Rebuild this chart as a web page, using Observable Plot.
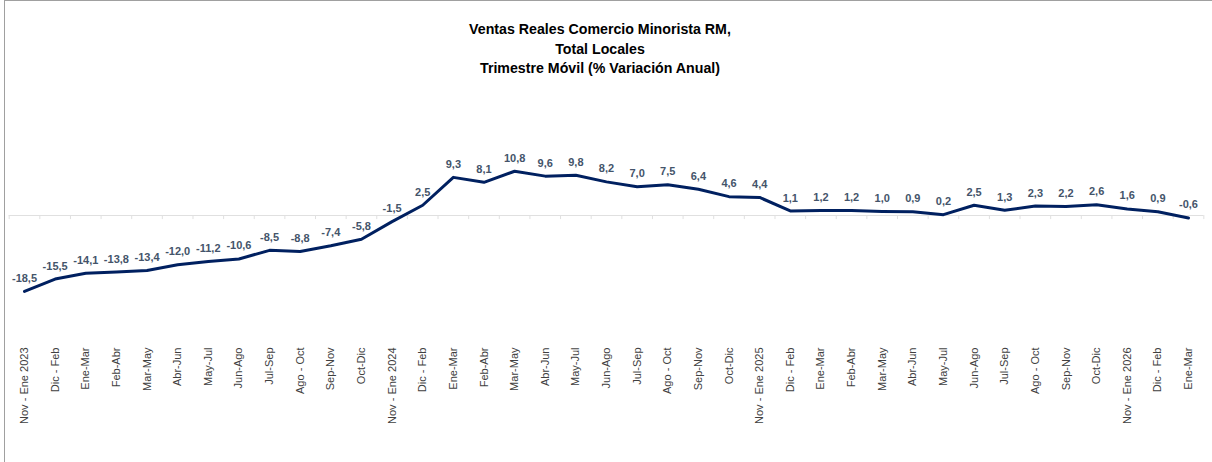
<!DOCTYPE html>
<html>
<head>
<meta charset="utf-8">
<script src="https://cdn.jsdelivr.net/npm/d3@7"></script>
<script src="https://cdn.jsdelivr.net/npm/@observablehq/plot@0.6"></script>
<style>
  html, body { margin: 0; padding: 0; background: #fff; }
  #frame { position: absolute; left: 4px; top: 0; width: 1300px; height: 470px;
           border-top: 1px solid #a0a0a0; border-left: 1px solid #a0a0a0; box-sizing: border-box; }
  #title { position: absolute; left: 0; top: 20px; width: 1200px; text-align: center;
           font-family: "Liberation Sans", Arial, sans-serif; font-weight: bold; font-size: 14.2px;
           line-height: 19.5px; color: #000; }
  #chart { position: absolute; left: 0; top: 80px; }
</style>
</head>
<body>
<div id="frame"></div>
<div id="title">Ventas Reales Comercio Minorista RM,<br>Total Locales<br>Trimestre Móvil (% Variación Anual)</div>
<div id="chart"></div>
<script>
const categories = [
  "Nov - Ene 2023", "Dic - Feb", "Ene-Mar", "Feb-Abr", "Mar-May", "Abr-Jun", "May-Jul", "Jun-Ago", "Jul-Sep", "Ago - Oct", "Sep-Nov", "Oct-Dic",
  "Nov - Ene 2024", "Dic - Feb", "Ene-Mar", "Feb-Abr", "Mar-May", "Abr-Jun", "May-Jul", "Jun-Ago", "Jul-Sep", "Ago - Oct", "Sep-Nov", "Oct-Dic",
  "Nov - Ene 2025", "Dic - Feb", "Ene-Mar", "Feb-Abr", "Mar-May", "Abr-Jun", "May-Jul", "Jun-Ago", "Jul-Sep", "Ago - Oct", "Sep-Nov", "Oct-Dic",
  "Nov - Ene 2026", "Dic - Feb", "Ene-Mar"
];
const values = [
  -18.5, -15.5, -14.1, -13.8, -13.4, -12.0, -11.2, -10.6, -8.5, -8.8, -7.4, -5.8,
  -1.5, 2.5, 9.3, 8.1, 10.8, 9.6, 9.8, 8.2, 7.0, 7.5, 6.4, 4.6,
  4.4, 1.1, 1.2, 1.2, 1.0, 0.9, 0.2, 2.5, 1.3, 2.3, 2.2, 2.6,
  1.6, 0.9, -0.6
];

const data = values.map((v, i) => ({i, v, label: categories[i]}));
const idx = data.map(d => d.i);
const boundaries = d3.range(categories.length + 1).map(k => k - 0.5);
const fmt = v => v.toFixed(1).replace(".", ",");

const chart = Plot.plot({
  width: 1212,
  height: 382,
  marginLeft: 8,
  marginRight: 8,
  marginTop: 0,
  marginBottom: 118,
  style: { fontFamily: "Liberation Sans, Arial, sans-serif", background: "transparent" },
  x: { type: "linear", domain: [0, categories.length - 1], range: [24, 1188] },
  y: { domain: [-20, 12], range: [217, 85.8], axis: null },
  marks: [
    Plot.ruleY([0], { x1: -0.5, x2: categories.length - 0.5, stroke: "#e0e0e0", strokeWidth: 1 }),
    Plot.ruleX(boundaries, { x: d => d, y1: 0, y2: -1, stroke: "#e0e0e0", strokeWidth: 1 }),
    Plot.line(data, { x: "i", y: "v", stroke: "#002060", strokeWidth: 3, strokeLinejoin: "round" }),
    Plot.text(data, { x: "i", y: "v", text: d => fmt(d.v), dy: -13, fill: "#44546A",
                      fontWeight: "bold", fontSize: 11 }),
    Plot.axisX(idx, { anchor: "bottom", tickSize: 0, tickPadding: 3, tickRotate: -90,
                      tickFormat: i => categories[i], fontSize: 11, fill: "#404040", label: null }),
  ]
});
document.getElementById("chart").appendChild(chart);
</script>
</body>
</html>
